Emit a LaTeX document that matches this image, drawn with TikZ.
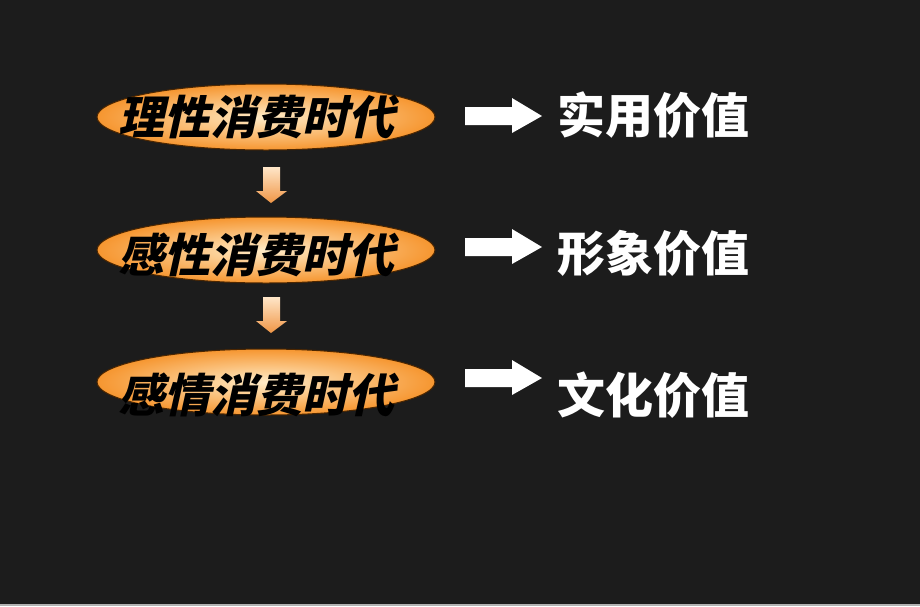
\documentclass[tikz,border=0pt]{standalone}
\usepackage{fontspec}
\newfontfamily\cjk{Noto Sans CJK SC}
\newfontfamily\cjkit{Noto Sans CJK SC}[FakeSlant=0.22]
\usetikzlibrary{shapes.geometric}
\definecolor{bg}{HTML}{1C1C1C}
\begin{document}
\begin{tikzpicture}[x=1pt,y=-1pt,
  era/.style={ellipse, minimum width=338pt, minimum height=66pt, inner sep=0pt,
    draw=black!70!orange, line width=1pt, inner color={rgb,255:red,255;green,236;blue,200}, outer color={rgb,255:red,246;green,150;blue,48}},
  eratext/.style={font=\cjkit\bfseries\fontsize{46}{46}\selectfont, text=black, inner sep=0pt},
  valtext/.style={font=\cjk\bfseries\fontsize{48}{48}\selectfont, text=white, anchor=west, inner sep=0pt},
  rarrow/.style={fill=white},
  darrow/.style={top color={rgb,255:red,255;green,230;blue,200}, bottom color={rgb,255:red,240;green,150;blue,70}}]
\fill[bg] (0,0) rectangle (920,606);
\fill[gray!60] (0,604) rectangle (920,606);
% ellipses
\node[era] (e1) at (266,117) {};
\node[era] (e2) at (266,250) {};
\node[era] (e3) at (266,382) {};
% era texts
\node[eratext] (t1) at (256,117) {理性消费时代};
\node[eratext] (t2) at (256,255) {感性消费时代};
\node[eratext] (t3) at (256,395) {感情消费时代};
% down arrows
\foreach \y in {167,297}{
  \path[darrow] (263,\y) -- (280,\y) -- (280,\y+24) -- (287,\y+24) -- (271,\y+36) -- (256,\y+24) -- (263,\y+24) -- cycle;
}
% right arrows
\foreach \y in {116,247,378}{
  \path[rarrow] (465,\y-9) -- (512,\y-9) -- (512,\y-18) -- (542,\y) -- (512,\y+17) -- (512,\y+9) -- (465,\y+9) -- cycle;
}
% value texts
\node[valtext] (v1) at (557,115) {实用价值};
\node[valtext] (v2) at (557,253) {形象价值};
\node[valtext] (v3) at (557,395) {文化价值};
\end{tikzpicture}
\end{document}
